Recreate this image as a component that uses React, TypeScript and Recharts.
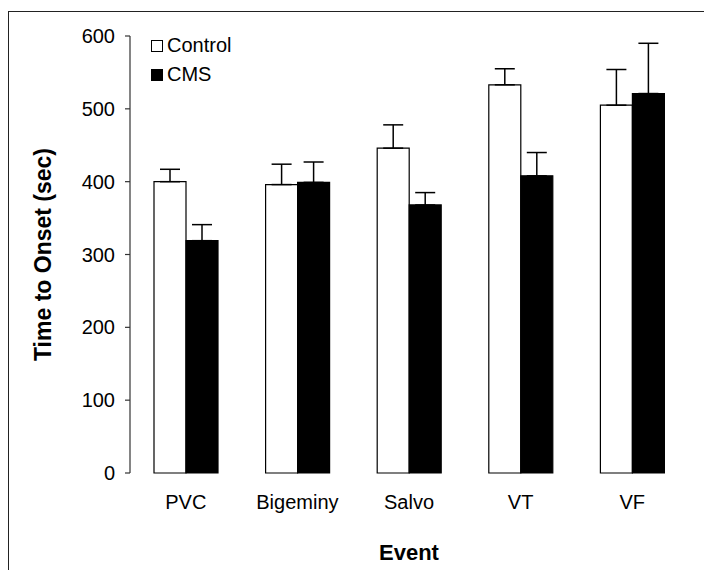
import React from 'react';
import { BarChart, Bar, XAxis, YAxis, ErrorBar, Legend } from 'recharts';

const events = ['PVC', 'Bigeminy', 'Salvo', 'VT', 'VF'];
const seriesNames = ['Control', 'CMS'];
const controlMeans = [400, 396, 446, 533, 505];
const controlErr = [17, 28, 32, 22, 49];
const cmsMeans = [319, 399, 368, 408, 521];
const cmsErr = [22, 28, 17, 32, 69];
const yTicks = [0, 100, 200, 300, 400, 500, 600];
const boundaryTicks = [0, 1, 2, 3, 4, 5];

const data = events.map((e, i) => ({
  event: e,
  Control: controlMeans[i],
  ControlErr: [0, controlErr[i]],
  CMS: cmsMeans[i],
  CMSErr: [0, cmsErr[i]],
}));

const FONT = 'Arial, "Liberation Sans", Helvetica, sans-serif';
const AXIS = '#333';

const LegendContent = (props: any) => {
  const payload = [...(props.payload || [])].sort(
    (a: any, b: any) => seriesNames.indexOf(a.value) - seriesNames.indexOf(b.value)
  );
  return (
    <div style={{ fontFamily: FONT, fontSize: 20, color: '#000' }}>
      {payload.map((p: any) => (
        <div key={p.value} style={{ display: 'flex', alignItems: 'center', height: 29 }}>
          <span
            style={{
              display: 'inline-block',
              width: 10,
              height: 10,
              border: '1px solid #000',
              background: p.value === 'CMS' ? '#000' : '#fff',
              marginRight: 4,
            }}
          />
          <span>{p.value}</span>
        </div>
      ))}
    </div>
  );
};

const YLabel = (props: any) => {
  const vb = props.viewBox || {};
  const cx = vb.x + 35;
  const cy = vb.y + vb.height / 2;
  return (
    <text
      x={cx}
      y={cy}
      transform={`rotate(-90, ${cx}, ${cy})`}
      textAnchor="middle"
      dominantBaseline="central"
      fontFamily={FONT}
      fontWeight="bold"
      fontSize={23}
      fill="#000"
    >
      Time to Onset (sec)
    </text>
  );
};

const XLabel = (props: any) => {
  const vb = props.viewBox || {};
  return (
    <text
      x={vb.x + vb.width / 2}
      y={vb.y + 87}
      textAnchor="middle"
      fontFamily={FONT}
      fontWeight="bold"
      fontSize={22}
      fill="#000"
    >
      Event
    </text>
  );
};

export default function App() {
  return (
    <div style={{ position: 'absolute', left: 0, top: 0, width: 704, height: 570, overflow: 'hidden', background: '#fff' }}>
      <div
        style={{
          position: 'absolute',
          left: 8,
          top: 11,
          width: 720,
          height: 600,
          borderLeft: '1.5px solid #222',
          borderTop: '1.5px solid #222',
        }}
      />
      <div style={{ position: 'absolute', left: 0, top: 0 }}>
        <BarChart
          width={704}
          height={570}
          data={data}
          margin={{ top: 36, right: 16, bottom: 0, left: 8 }}
          barGap={0}
          barSize={32}
        >
          <XAxis
            xAxisId="t"
            type="number"
            domain={[0, 5]}
            ticks={boundaryTicks}
            tick={false}
            tickSize={5}
            height={0}
            axisLine={{ stroke: AXIS, strokeWidth: 1.2 }}
            tickLine={{ stroke: AXIS, strokeWidth: 1.2 }}
          />
          <XAxis
            xAxisId="cat"
            dataKey="event"
            axisLine={false}
            tickLine={false}
            tickSize={0}
            tickMargin={22}
            height={97}
            tick={{ fontFamily: FONT, fontSize: 20, fill: '#000' }}
            label={<XLabel />}
          />
          <YAxis
            domain={[0, 600]}
            ticks={yTicks}
            width={122}
            tickSize={5}
            tickMargin={10}
            axisLine={{ stroke: AXIS, strokeWidth: 1.2 }}
            tickLine={{ stroke: AXIS, strokeWidth: 1.2 }}
            tick={{ fontFamily: FONT, fontSize: 20, fill: '#000' }}
            label={<YLabel />}
          />
          <Legend
            layout="vertical"
            align="center"
            verticalAlign="middle"
            content={<LegendContent />}
            wrapperStyle={{ left: 151, top: 31, width: 120, height: 60 }}
          />
          <Bar
            xAxisId="cat"
            dataKey="Control"
            name="Control"
            fill="#fff"
            stroke="#000"
            strokeWidth={1.2}
            isAnimationActive={false}
          >
            <ErrorBar dataKey="ControlErr" width={10} stroke="#000" strokeWidth={1.5} direction="y" />
          </Bar>
          <Bar
            xAxisId="cat"
            dataKey="CMS"
            name="CMS"
            fill="#000"
            stroke="#000"
            strokeWidth={1.2}
            isAnimationActive={false}
          >
            <ErrorBar dataKey="CMSErr" width={10} stroke="#000" strokeWidth={1.5} direction="y" />
          </Bar>
        </BarChart>
      </div>
    </div>
  );
}
